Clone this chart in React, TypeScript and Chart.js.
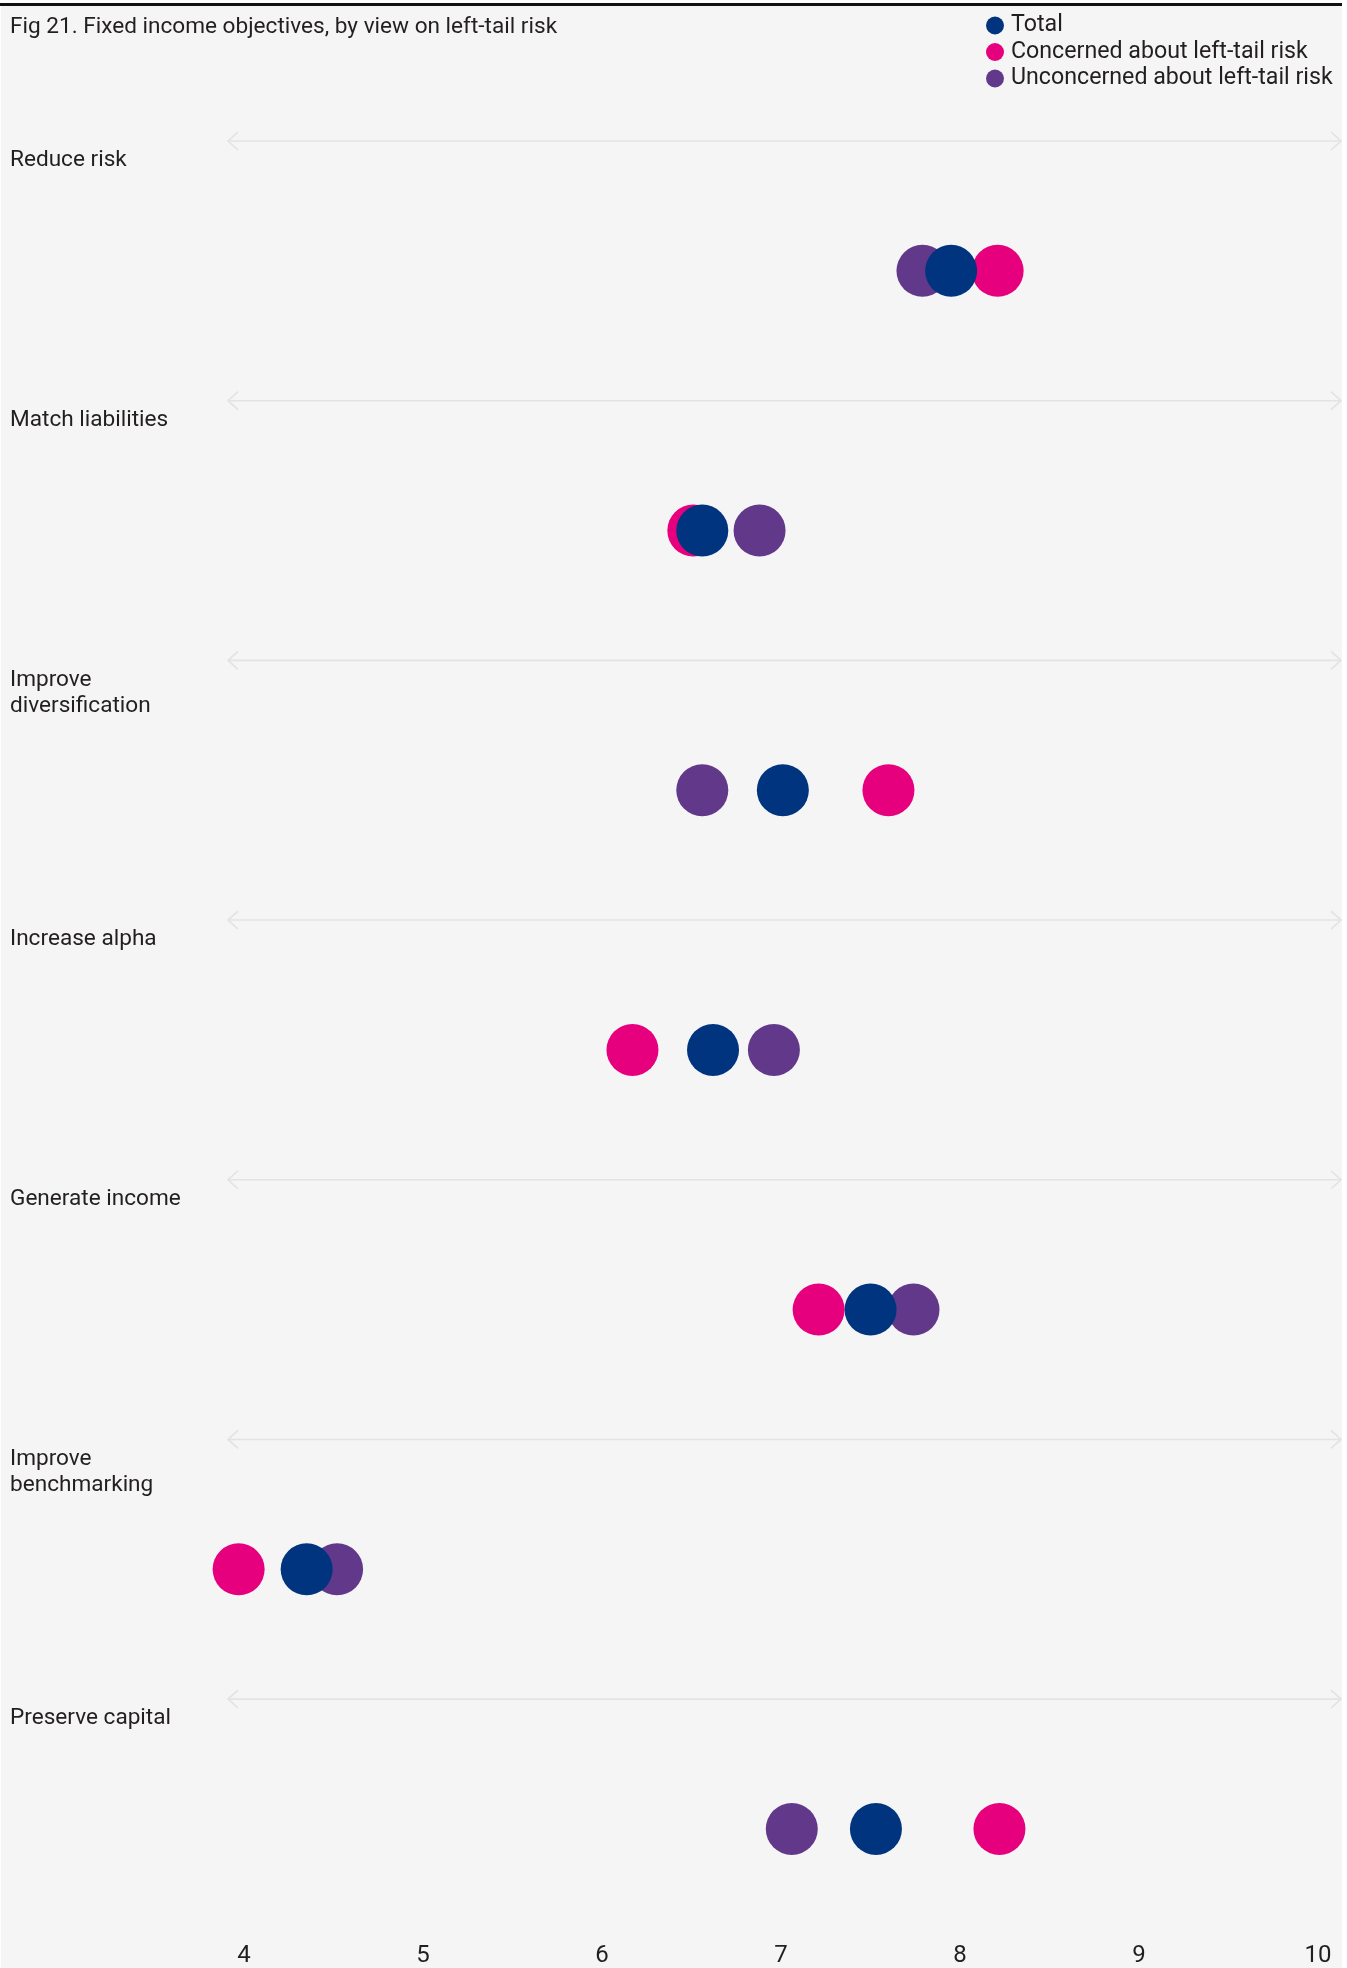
import React, { useEffect, useRef } from "react";
import { Chart, registerables } from "chart.js";

Chart.register(...registerables);

const chartTitle = "Fig 21. Fixed income objectives, by view on left-tail risk";
const categories = [
  "Reduce risk",
  "Match liabilities",
  "Improve\ndiversification",
  "Increase alpha",
  "Generate income",
  "Improve\nbenchmarking",
  "Preserve capital",
];
const seriesNames = ["Total", "Concerned about left-tail risk", "Unconcerned about left-tail risk"];
const seriesColors = ["#00347f", "#e6007e", "#62388a"];
const totalValues = [7.95, 6.56, 7.01, 6.62, 7.5, 4.35, 7.53];
const concernedValues = [8.21, 6.51, 7.6, 6.17, 7.21, 3.97, 8.22];
const unconcernedValues = [7.79, 6.88, 6.56, 6.96, 7.74, 4.52, 7.06];
const xTickValues = [4, 5, 6, 7, 8, 9, 10];

const W = 1347;
const H = 1968;
const FONT = "Roboto, 'DejaVu Sans', sans-serif";
const TEXT = "#231f20";

const decorPlugin = {
  id: "decor",
  beforeDraw(chart: any) {
    const { ctx, chartArea, scales } = chart;
    const yScale = scales.y;
    ctx.save();
    ctx.fillStyle = "#ffffff";
    ctx.fillRect(0, 0, W, H);
    ctx.fillStyle = "#f5f5f5";
    ctx.fillRect(1, 6, 1341, H - 6);
    ctx.fillStyle = "#111111";
    ctx.fillRect(0, 3, 1342, 3);

    ctx.textBaseline = "middle";
    ctx.textAlign = "left";
    ctx.font = `22.6px ${FONT}`;
    ctx.fillStyle = TEXT;
    ctx.fillText(chartTitle, 10, 27);

    ctx.font = `23.2px ${FONT}`;
    seriesNames.forEach((name, i) => {
      const cy = 25.5 + i * 26.5;
      ctx.beginPath();
      ctx.arc(995, cy, 9, 0, Math.PI * 2);
      ctx.fillStyle = seriesColors[i];
      ctx.fill();
      ctx.fillStyle = TEXT;
      ctx.fillText(name, 1011, cy);
    });

    categories.forEach((cat, i) => {
      const ay = yScale.getPixelForValue(i - 0.5);
      const l = chartArea.left;
      const r = chartArea.right;
      ctx.strokeStyle = "#e3e3e3";
      ctx.lineWidth = 1.6;
      ctx.beginPath();
      ctx.moveTo(l, ay);
      ctx.lineTo(r, ay);
      ctx.stroke();
      ctx.beginPath();
      ctx.moveTo(l + 10, ay - 9);
      ctx.lineTo(l, ay);
      ctx.lineTo(l + 10, ay + 9);
      ctx.moveTo(r - 10, ay - 9);
      ctx.lineTo(r, ay);
      ctx.lineTo(r - 10, ay + 9);
      ctx.stroke();
      ctx.fillStyle = TEXT;
      ctx.font = `22.6px ${FONT}`;
      cat.split("\n").forEach((line, j) => {
        ctx.fillText(line, 10, ay + 19.5 + j * 26.5);
      });
    });
    ctx.restore();
  },
};

export default function App() {
  const canvasRef = useRef<HTMLCanvasElement | null>(null);

  useEffect(() => {
    const canvas = canvasRef.current;
    if (!canvas) return;
    const mk = (values: number[], idx: number) => ({
      label: seriesNames[idx],
      data: values.map((v, i) => ({ x: v, y: i })),
      backgroundColor: seriesColors[idx],
      pointRadius: 26,
      pointHoverRadius: 26,
      pointBorderWidth: 0,
      borderWidth: 0,
      clip: false as any,
    });
    const chart = new Chart(canvas, {
      type: "scatter",
      data: {
        datasets: [mk(totalValues, 0), mk(concernedValues, 1), mk(unconcernedValues, 2)],
      },
      options: {
        responsive: false,
        animation: false,
        devicePixelRatio: 1,
        events: [],
        layout: { autoPadding: false, padding: { left: 228, right: 6, top: 141, bottom: 0 } },
        plugins: {
          legend: { display: false },
          title: { display: false },
          tooltip: { enabled: false },
        },
        scales: {
          x: {
            type: "linear",
            min: 3.9106,
            max: 10.128,
            afterBuildTicks: (scale: any) => {
              scale.ticks = xTickValues.map((v) => ({ value: v }));
            },
            afterFit: (scale: any) => {
              scale.paddingLeft = 0;
              scale.paddingRight = 0;
            },
            grid: { display: false, drawTicks: false },
            border: { display: false },
            ticks: {
              color: TEXT,
              padding: 0,
              font: { family: FONT, size: 24, lineHeight: 1 },
            },
          },
          y: {
            type: "linear",
            display: false,
            reverse: true,
            min: -0.5,
            max: 6.443,
          },
        },
      },
      plugins: [decorPlugin],
    });
    return () => chart.destroy();
  }, []);

  return (
    <div style={{ position: "absolute", left: 0, top: 0, width: W, height: H }}>
      <canvas ref={canvasRef} width={W} height={H} style={{ display: "block" }} />
    </div>
  );
}
